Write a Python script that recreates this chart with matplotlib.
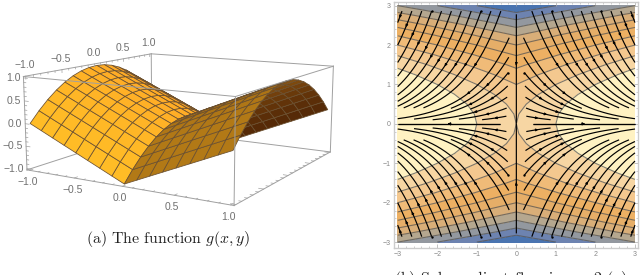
import numpy as np
import matplotlib
matplotlib.use('Agg')
import matplotlib.pyplot as plt
from matplotlib.collections import PolyCollection

plt.rcParams['mathtext.fontset'] = 'cm'
plt.rcParams['font.family'] = ['Liberation Sans', 'DejaVu Sans']

# left surface, values read along the two directions of the mesh
surf_x = [-1, -0.875, -0.75, -0.625, -0.5, -0.375, -0.25, -0.125, 0,
          0.125, 0.25, 0.375, 0.5, 0.625, 0.75, 0.875, 1]
surf_y = [-1, -0.875, -0.75, -0.625, -0.5, -0.375, -0.25, -0.125, 0,
          0.125, 0.25, 0.375, 0.5, 0.625, 0.75, 0.875, 1]
surf_rise = [1, 0.875, 0.75, 0.625, 0.5, 0.375, 0.25, 0.125, 0,
             0.125, 0.25, 0.375, 0.5, 0.625, 0.75, 0.875, 1]
surf_arch = [-1, -0.766, -0.563, -0.391, -0.25, -0.141, -0.063, -0.016, 0,
             -0.016, -0.063, -0.141, -0.25, -0.391, -0.563, -0.766, -1]
box_ticks = [-1.0, -0.5, 0.0, 0.5, 1.0]
box_minor = [-1.0, -0.9, -0.8, -0.7, -0.6, -0.5, -0.4, -0.3, -0.2, -0.1, 0.0,
             0.1, 0.2, 0.3, 0.4, 0.5, 0.6, 0.7, 0.8, 0.9, 1.0]

# where the corners of the box sit in the picture (pixels), box is a bit bigger than the surface
pad = 1.03
box_corners = [(-pad, -pad, -pad), (pad, -pad, -pad), (-pad, -pad, pad), (pad, -pad, pad),
               (-pad, pad, pad), (pad, pad, pad), (pad, pad, -pad), (-pad, pad, -pad)]
box_pixels = [(26.7, 168.3), (235, 206), (23.3, 77.3), (235, 97),
              (151.7, 53.3), (333.3, 65.7), (330, 151.7), (151.7, 130.7)]

# right panel: same function on a wider grid
flow_x = [-3, -2.75, -2.5, -2.25, -2, -1.75, -1.5, -1.25, -1, -0.75, -0.5, -0.25, 0,
          0.25, 0.5, 0.75, 1, 1.25, 1.5, 1.75, 2, 2.25, 2.5, 2.75, 3]
flow_y = flow_x
flow_rise = [3, 2.75, 2.5, 2.25, 2, 1.75, 1.5, 1.25, 1, 0.75, 0.5, 0.25, 0,
             0.25, 0.5, 0.75, 1, 1.25, 1.5, 1.75, 2, 2.25, 2.5, 2.75, 3]
flow_drop = [-9, -7.563, -6.25, -5.063, -4, -3.063, -2.25, -1.563, -1, -0.563, -0.25, -0.063, 0,
             -0.063, -0.25, -0.563, -1, -1.563, -2.25, -3.063, -4, -5.063, -6.25, -7.563, -9]
levels = [-9, -8, -7, -6, -5, -4, -3, -2, -1, 0, 1, 3]
band_colors = ['#4a74b0', '#6d83b0', '#93989f', '#b5a78f', '#d9ae78', '#e6ae68',
               '#edb063', '#f0bb78', '#f4c88f', '#f7d6a3', '#fff2c2']
top_starts = [2.85, 2.6, 2.35, 2.1, 1.85, 1.6, 1.35, 1.1, 0.85, 0.6, 0.35]
inner_starts = [2.3, 1.8, 1.4, 1.05, 0.75, 0.45, 0.22]
axis_ticks = [-3, -2, -1, 0, 1, 2, 3]


def fit_camera(points, pixels):
    rows = []
    for (x, y, z), (u, v) in zip(points, pixels):
        rows.append([x, y, z, 1, 0, 0, 0, 0, -u*x, -u*y, -u*z, -u])
        rows.append([0, 0, 0, 0, x, y, z, 1, -v*x, -v*y, -v*z, -v])
    return np.linalg.svd(np.array(rows))[2][-1].reshape(3, 4)


cam = fit_camera(box_corners, box_pixels)


def project(x, y, z):
    p = cam @ np.array([x, y, z, 1.0])
    return p[0]/p[2], p[1]/p[2]


def label(t):
    return f'{t:.1f}'.replace('-', '\u2212')


fig = plt.figure(figsize=(6.4, 2.75), dpi=100)
ax = fig.add_axes([0, 0, 1, 1])
ax.set_xlim(0, 640)
ax.set_ylim(275, 0)
ax.axis('off')

# box edges, the back ones go under the surface
back = [(7, 4), (7, 6), (7, 0), (4, 5), (5, 6)]
front = [(0, 1), (0, 2), (2, 3), (1, 3), (3, 5), (1, 6), (2, 4)]
for edges, zo in ((back, 1), (front, 3)):
    for a, b in edges:
        pa = project(*box_corners[a])
        pb = project(*box_corners[b])
        ax.plot([pa[0], pb[0]], [pa[1], pb[1]], color='#a0a0a0', lw=0.7, zorder=zo)

# facets far to near
facets = []
for i in range(len(surf_x)-1):
    for j in range(len(surf_y)-1):
        corners = [(i, j), (i+1, j), (i+1, j+1), (i, j+1)]
        pts = [(surf_x[a], surf_y[b], surf_rise[a]+surf_arch[b]) for a, b in corners]
        p = np.array(pts)
        n = np.cross(p[2]-p[0], p[3]-p[1])
        n = n/np.linalg.norm(n)
        light = min(0.39 + 0.37*n[0] - 0.226*n[1] + 0.667*n[2], 1)
        dist = np.linalg.norm(p.mean(axis=0)-np.array([0.4, -4.0, 3.0]))
        # the lit half turns more orange towards the back
        green = 0.74 - 0.06*(p[:, 1].mean()+1) if p[:, 0].mean() < 0 else 0.8
        facets.append((dist, [project(*q) for q in pts], light, green))
facets.sort(key=lambda f: -f[0])
colors = [(f[2], f[2]**1.45*f[3], f[2]**1.5*0.15) for f in facets]
ax.add_collection(PolyCollection([f[1] for f in facets], facecolors=colors,
                                 edgecolors='#6b5030', linewidths=0.55, zorder=2))

# small ticks on the box
for t in box_minor:
    size = 0.045 if t in box_ticks else 0.025
    for a, b in [((t, -pad, -pad), (t, -pad+size, -pad)),
                 ((-pad, t, pad), (-pad, t, pad-size*1.5)),
                 ((-pad, -pad, t), (-pad+size, -pad, t)),
                 ((pad, t, -pad), (pad-size, t, -pad))]:
        pa = project(*a)
        pb = project(*b)
        ax.plot([pa[0], pb[0]], [pa[1], pb[1]], color='#a0a0a0', lw=0.5, zorder=3)

# labels of the box
for t in box_ticks:
    u, v = project(t, -pad, -pad)
    ax.text(u-2, v+12, label(t), color='#707070', fontsize=7.5, ha='center', va='center')
    u, v = project(-pad, t, pad)
    ax.text(u-1, v-11, label(t), color='#707070', fontsize=7.5, ha='center', va='center')
    u, v = project(-pad, -pad, t)
    ax.text(u-3, v, label(t), color='#707070', fontsize=7.5, ha='right', va='center')

ax.text(168, 239, '(a) The function $g(x, y)$', family='cmr10', fontsize=11.4, color='#222222',
        ha='center', va='center')
ax.text(511, 279, '(b) Sub-gradient flow in $x = 2$ $(y)$', family='cmr10', fontsize=11.4,
        color='#222222', ha='center', va='center')

# right panel
axr = fig.add_axes([393.5/640, 1-248/275, 244.5/640, 246.3/275])
axr.set_xlim(-3.106, 3.076)
axr.set_ylim(-3.15, 3.10)
G = np.add.outer(flow_drop, flow_rise)
axr.contourf(flow_x, flow_y, G, levels=levels, colors=band_colors)
axr.contour(flow_x, flow_y, G, levels=levels[1:-1], colors='#555555', linewidths=0.8,
            alpha=0.75, linestyles='solid')

V, U = np.gradient(G, 0.25)
V = V/2
grid_x = np.array(flow_x)
grid_y = np.array(flow_y)


def add_heads(stream):
    # small heads along each line
    run = 0.0
    for seg in stream.lines.get_segments():
        run += np.hypot(*(seg[1]-seg[0]))
        if run > 0.5:
            axr.plot(seg[0][0], seg[0][1], 'o', color='black', ms=1.7, mew=0, zorder=5)
            run = 0.0


# the crease line down the middle
add_heads(axr.streamplot(grid_x, grid_y, U, V, start_points=[(0, 2.98), (0, -2.98)], color='black',
                         linewidth=0.85, arrowsize=0.3, density=1, maxlength=100,
                         integration_direction='forward'))
# one flow per quadrant so the picture stays symmetric
for sx, ix in ((-1, slice(0, 13)), (1, slice(12, 25))):
    for sy, iy in ((-1, slice(0, 13)), (1, slice(12, 25))):
        seeds = [(sx*0.3, sy*0.0)]
        seeds += [(sx*s, sy*2.98) for s in top_starts]
        seeds += [(sx*0.13, sy*s) for s in inner_starts]
        Uq = U[iy, ix].copy()
        Uq[:, 12 if sx < 0 else 0] = sx
        add_heads(axr.streamplot(grid_x[ix], grid_y[iy], Uq, V[iy, ix], start_points=seeds,
                                 color='black', linewidth=0.85, arrowsize=0.3, density=0.8,
                                 maxlength=100, minlength=0.1, integration_direction='forward'))
axr.set_xticks(axis_ticks)
axr.set_yticks(axis_ticks)
axr.set_xticks(np.arange(-30, 31, 2)/10, minor=True)
axr.set_yticks(np.arange(-30, 31, 2)/10, minor=True)
axr.tick_params(which='major', direction='in', length=3, width=0.5, color='#aaaaaa',
                labelsize=5, labelcolor='#888888', top=True, right=True, pad=2)
axr.tick_params(which='minor', direction='in', length=1.5, width=0.4, color='#aaaaaa',
                top=True, right=True)
axr.set_xticklabels([str(t).replace('-', '\u2212') for t in axis_ticks])
axr.set_yticklabels([str(t).replace('-', '\u2212') for t in axis_ticks])
for s in axr.spines.values():
    s.set_color('#cccccc')
    s.set_linewidth(1.0)

fig.savefig('out.png', dpi=100)
